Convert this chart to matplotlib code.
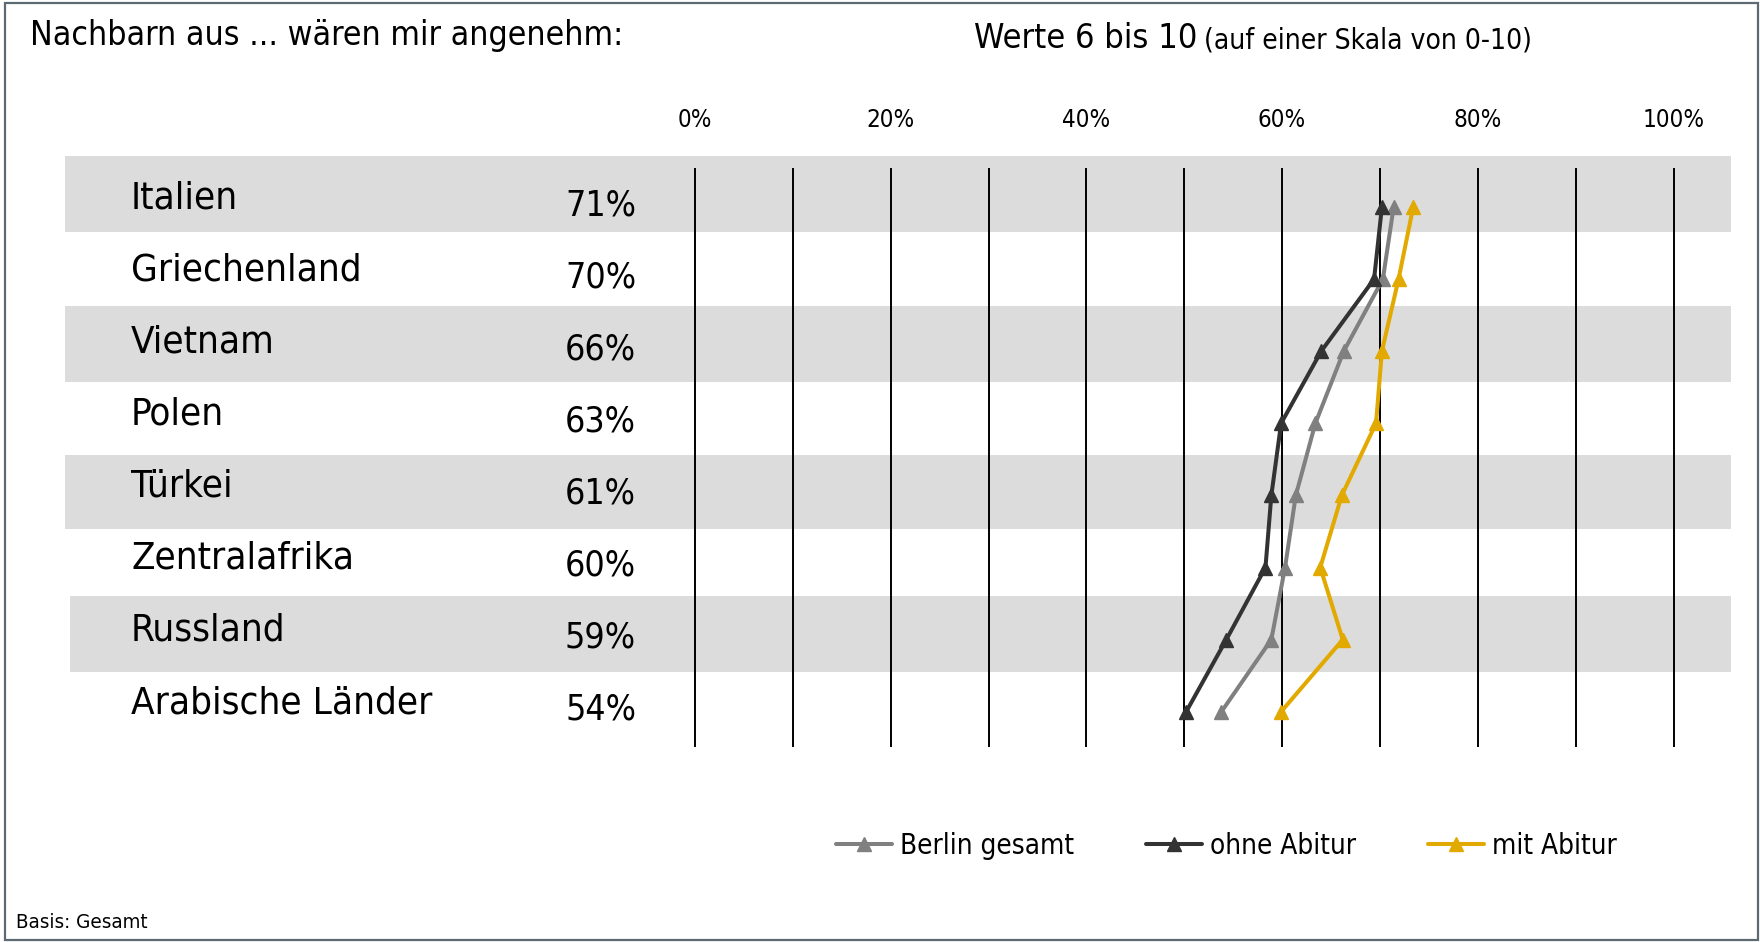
import numpy as np
import matplotlib
matplotlib.use("Agg")
import matplotlib.pyplot as plt
from matplotlib.transforms import blended_transform_factory
from matplotlib.patches import Rectangle

# ---------------- data ----------------
countries = ["Italien", "Griechenland", "Vietnam", "Polen", "Türkei",
             "Zentralafrika", "Russland", "Arabische Länder"]
share_labels = ["71%", "70%", "66%", "63%", "61%", "60%", "59%", "54%"]
berlin_gesamt = [71.4, 70.3, 66.3, 63.4, 61.4, 60.3, 58.9, 53.8]
ohne_abitur = [70.2, 69.4, 64.0, 59.9, 58.9, 58.3, 54.3, 50.2]
mit_abitur = [73.4, 71.9, 70.2, 69.6, 66.1, 63.9, 66.2, 59.9]
series_names = ["Berlin gesamt", "ohne Abitur", "mit Abitur"]
tick_values = [0, 20, 40, 60, 80, 100]
tick_labels = ["0%", "20%", "40%", "60%", "80%", "100%"]
grid_values = list(range(0, 101, 10))

title = "Nachbarn aus ... wären mir angenehm:"
subtitle_main = "Werte 6 bis 10"
subtitle_small = "(auf einer Skala von 0-10)"
footnote = "Basis: Gesamt"

# ---------------- style ----------------
FONT = ["Liberation Sans Narrow", "DejaVu Sans"]
plt.rcParams["font.family"] = FONT
plt.rcParams["font.stretch"] = "condensed"
C_GRAY = "#808080"
C_DARK = "#333333"
C_GOLD = "#E2A900"
C_BAND = "#DCDCDC"

W, H = 1760, 942
DPI = 100
fig = plt.figure(figsize=(W / DPI, H / DPI), dpi=DPI)
fig.patch.set_facecolor("white")


def fx(px):
    return px / W


def fy(py):
    return 1 - py / H


# axes placement (pixels)
ax_left, ax_right = 65, 1731
ax_top, ax_bot = 150, 760
ax = fig.add_axes([fx(ax_left), fy(ax_bot), fx(ax_right - ax_left), (ax_bot - ax_top) / H])
ax.set_facecolor("none")

# x scale: 0% at 695 px, 100% at 1673.5 px
x0_px, x100_px = 695.0, 1673.5
ppu = (x100_px - x0_px) / 100.0
ax.set_xlim((ax_left - x0_px) / ppu, (ax_right - x0_px) / ppu)
# y scale: row i centred at 207 + 72.1 i px
row0_px, row_px = 207.0, 72.1
ax.set_ylim((ax_bot - row0_px) / row_px, (ax_top - row0_px) / row_px)

n = len(countries)
yy = np.arange(n)

# bands on every other row (edge offsets in row units)
band_top = [-0.71, -0.62, -0.56, -0.60]
band_bot = [0.35, 0.43, 0.47, 0.45]
band_xmin = [0.0, 0.0, 0.0, 5 / (ax_right - ax_left)]
for k, i in enumerate(range(0, n, 2)):
    ax.axhspan(i + band_top[k], i + band_bot[k], xmin=band_xmin[k], xmax=1,
               color=C_BAND, zorder=0, lw=0)

# vertical grid lines
ax.vlines(grid_values, -0.54, 7.49, color="black", lw=1.4, zorder=1)

# series
lines = []
for vals, col, name in [(berlin_gesamt, C_GRAY, series_names[0]),
                        (ohne_abitur, C_DARK, series_names[1]),
                        (mit_abitur, C_GOLD, series_names[2])]:
    ln, = ax.plot(vals, yy, color=col, lw=2.9, marker="^", ms=10.5,
                  mec=col, mfc=col, zorder=3, label=name,
                  solid_joinstyle="round", solid_capstyle="round")
    lines.append(ln)

# axes cosmetics
for s in ax.spines.values():
    s.set_visible(False)
ax.set_yticks([])
ax.xaxis.tick_top()
ax.set_xticks(tick_values)
ax.set_xticklabels(tick_labels)
ax.tick_params(axis="x", length=0, pad=13, labelsize=17)

renderer = fig.canvas.get_renderer()


def fit_width(t, target):
    w = t.get_window_extent(renderer).width
    t.set_fontsize(t.get_fontsize() * target / w)


# fit tick label size to reference width of "100%" (~62 px)
probe = fig.text(0, 0, "100%", fontsize=17)
fit_width(probe, 62)
tick_fs = probe.get_fontsize()
probe.remove()
ax.tick_params(axis="x", labelsize=tick_fs)

# row labels and share labels
tr = blended_transform_factory(fig.transFigure, ax.transData)
probe = fig.text(0, 0, "Arabische Länder", fontsize=28)
fit_width(probe, 300)
row_fs = probe.get_fontsize()
probe.remove()
probe = fig.text(0, 0, "71%", fontsize=28)
fit_width(probe, 71)
pct_fs = probe.get_fontsize()
probe.remove()
for i, (c, p) in enumerate(zip(countries, share_labels)):
    ax.text(fx(131), i - 0.12, c, transform=tr, ha="left", va="center",
            fontsize=row_fs, color="black")
    ax.text(fx(636), i - 0.025, p, transform=tr, ha="right", va="center",
            fontsize=pct_fs, color="black")

# title and subtitle
t = fig.text(fx(30), fy(36), title, ha="left", va="center", fontsize=24)
fit_width(t, 595)
t1 = fig.text(fx(974), fy(39), subtitle_main, ha="left", va="center", fontsize=24)
fit_width(t1, 224)
t2 = fig.text(fx(1204), fy(41), subtitle_small, ha="left", va="center", fontsize=18)
fit_width(t2, 329)
tf = fig.text(fx(16), fy(922), footnote, ha="left", va="center", fontsize=13)
fit_width(tf, 132)

# legend
probe = fig.text(0, 0, "Berlin gesamt", fontsize=20)
fit_width(probe, 174)
leg_fs = probe.get_fontsize()
probe.remove()
pt_px = leg_fs * DPI / 72.0
leg = fig.legend(lines, series_names, loc="center left",
                 bbox_to_anchor=(fx(836), fy(846)), ncol=3, frameon=False,
                 fontsize=leg_fs, handlelength=56 / pt_px,
                 handletextpad=8 / pt_px, columnspacing=72 / pt_px,
                 borderpad=0, borderaxespad=0, numpoints=1)

# outer frame
fig.patches.append(Rectangle((fx(5), fy(940)), fx(1753), (940 - 3) / H,
                             transform=fig.transFigure, fill=False,
                             edgecolor="#5E6A72", lw=1.6))

fig.savefig("out.png", dpi=DPI, facecolor="white")
